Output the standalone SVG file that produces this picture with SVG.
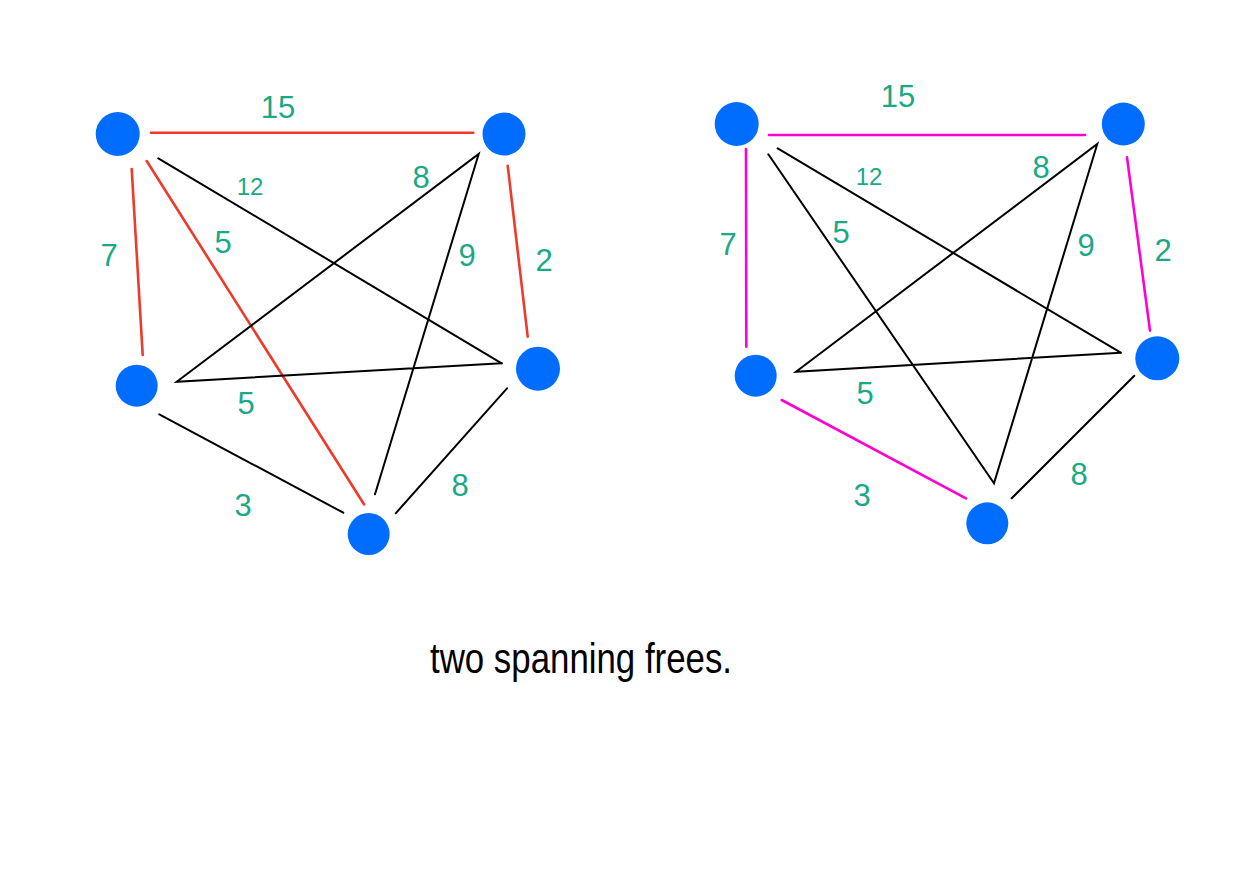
<svg xmlns="http://www.w3.org/2000/svg" width="1241" height="875" viewBox="0 0 1241 875">
<style>
.n{fill:#006DFF}
.k{stroke:#000;stroke-width:2;stroke-linecap:round;fill:none}
.r{stroke:#EE3A2A;stroke-width:2.6;stroke-linecap:round;fill:none}
.m{stroke:#FF00D4;stroke-width:2.6;stroke-linecap:round;fill:none}
.w{fill:#1AA886;font-family:"Liberation Sans",sans-serif;font-size:31px;text-anchor:middle;dominant-baseline:central}
.s{font-size:24px}
.t{fill:#000;font-family:"Liberation Sans",sans-serif;font-size:42px}
</style>
<rect width="1241" height="875" fill="#fff"/>
<g id="connectors">
<line class="r" x1="151" y1="132.7" x2="473.3" y2="132.7"/>
<line class="r" x1="131.7" y1="169" x2="142.7" y2="355"/>
<line class="r" x1="146.7" y1="161" x2="364" y2="504.3"/>
<line class="k" x1="158.3" y1="158.3" x2="501.7" y2="363.3"/>
<line class="r" x1="507.7" y1="165.7" x2="527.7" y2="336.7"/>
<polyline class="k" points="375,494.3 478.7,154 176.7,381.7 501.7,363.3"/>
<line class="k" x1="159.3" y1="414.3" x2="343.3" y2="512.7"/>
<line class="k" x1="507" y1="388.3" x2="395.7" y2="513.3"/>

<line class="m" x1="769" y1="135" x2="1085" y2="135"/>
<line class="m" x1="746" y1="149" x2="746.3" y2="346.7"/>
<line class="k" x1="777.7" y1="148.3" x2="1120.7" y2="352.7"/>
<polyline class="k" points="768.3,154.3 994,483.3 1097.3,144 796,371.7 1120.7,352.7"/>
<line class="m" x1="1127" y1="157.3" x2="1150" y2="330.7"/>
<line class="m" x1="781.7" y1="400" x2="966" y2="498.3"/>
<line class="k" x1="1134.3" y1="375.7" x2="1011.7" y2="498.3"/>
</g>
<g id="labels">
<text class="w" x="278" y="107">15</text>
<text class="w s" x="250" y="186">12</text>
<text class="w" x="421" y="177">8</text>
<text class="w" x="109" y="255">7</text>
<text class="w" x="223" y="242">5</text>
<text class="w" x="467" y="255">9</text>
<text class="w" x="544" y="260">2</text>
<text class="w" x="246" y="403">5</text>
<text class="w" x="243" y="505">3</text>
<text class="w" x="460" y="485">8</text>

<text class="w" x="898" y="96">15</text>
<text class="w s" x="869" y="176">12</text>
<text class="w" x="1041" y="167">8</text>
<text class="w" x="728" y="244">7</text>
<text class="w" x="841" y="232">5</text>
<text class="w" x="1086" y="245">9</text>
<text class="w" x="1163" y="250">2</text>
<text class="w" x="865" y="393">5</text>
<text class="w" x="862" y="495">3</text>
<text class="w" x="1079" y="474">8</text>
</g>
<g id="nA1"><circle class="n" cx="117.7" cy="134" r="22"/></g>
<g id="nB1"><circle class="n" cx="504" cy="134" r="21.5"/></g>
<g id="nC1"><circle class="n" cx="136.7" cy="385.7" r="21"/></g>
<g id="nD1"><circle class="n" cx="538" cy="368.7" r="22"/></g>
<g id="nE1"><circle class="n" cx="368.7" cy="534" r="21"/></g>
<g id="nA2"><circle class="n" cx="736.7" cy="124" r="22"/></g>
<g id="nB2"><circle class="n" cx="1123.3" cy="124" r="21.5"/></g>
<g id="nC2"><circle class="n" cx="755.7" cy="375.7" r="21"/></g>
<g id="nD2"><circle class="n" cx="1157.3" cy="358.3" r="22"/></g>
<g id="nE2"><circle class="n" cx="987.3" cy="523.3" r="21"/></g>
<g id="caption"><text class="t" x="430" y="673" textLength="302" lengthAdjust="spacingAndGlyphs">two spanning frees.</text></g>
</svg>
